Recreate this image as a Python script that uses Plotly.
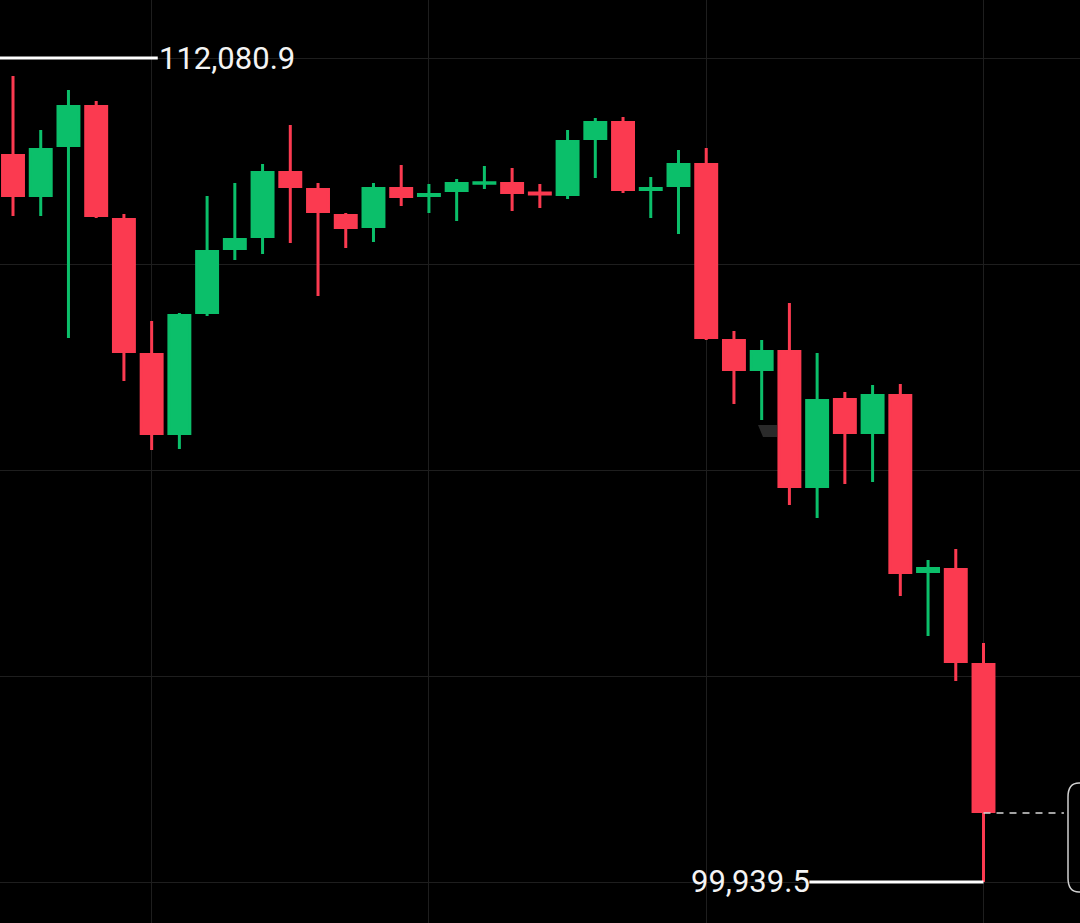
import plotly.graph_objects as go

# candle index, values
candle_idx = list(range(36))
open_px = [110644.4, 110054.8, 110791.5, 111366.4, 109701.3, 107712.2, 106547.9, 108330.8, 109273.8, 109450.6,
           110393.9, 110143.4, 109760.3, 109598.0, 110158.1, 110054.8, 110128.4, 110234.0, 110231.8, 110090.0,
           110069.5, 110894.6, 111130.6, 110143.2, 110202.1, 110511.7, 107918.4, 107490.9, 107756.4, 105767.0,
           107049.1, 106562.6, 107108.0, 104514.5, 104544.2, 103144.4]
high_px = [111815.7, 111020.0, 111609.4, 111447.3, 109782.3, 108205.7, 108323.6, 110047.5, 110239.0, 110519.0,
           111093.7, 110239.0, 109797.0, 110239.0, 110504.3, 110224.3, 110298.0, 110489.5, 110460.1, 110224.3,
           111020.0, 111196.8, 111211.5, 110327.5, 110725.3, 110754.8, 108058.3, 107925.7, 108470.9, 107734.2,
           107159.5, 107262.6, 107277.4, 104684.1, 104846.1, 103461.1]
low_px = [109752.8, 109752.8, 107955.2, 109723.3, 107321.6, 106304.9, 106319.6, 108279.3, 109104.5, 109192.9,
          109355.0, 108574.0, 109281.3, 109369.7, 109900.2, 109797.0, 109679.1, 110150.6, 109826.5, 109870.7,
          110003.3, 110312.7, 110091.7, 109723.3, 109487.6, 107925.7, 106982.7, 106746.9, 105494.5, 105302.9,
          105803.9, 105833.4, 104153.6, 103564.2, 102901.2, 99939.5]
close_px = [110054.8, 110732.8, 111366.4, 109760.1, 107756.2, 106547.9, 108286.8, 109229.8, 109406.6, 110393.9,
            110187.4, 109819.0, 109583.3, 110158.1, 110040.0, 110069.7, 110231.8, 110244.0, 110099.0, 110078.0,
            110850.6, 111130.6, 110143.2, 110158.1, 110511.7, 107962.4, 107490.9, 107756.4, 105767.0, 107034.4,
            106562.6, 107108.0, 104499.8, 104558.9, 103188.4, 100978.2]

price_ticks = [112080.9, 109036.0, 106002.0, 102966.0, 99931.0]
time_ticks = [5, 15, 25, 35]

high_price = 112080.9
low_price = 99939.5
high_label = '112,080.9'
low_label = '99,939.5'
high_line_x = [-0.47, 5.22]
low_line_x = [28.72, 35]
last_line_x = [35, 37.9]
last_close = 100956.2

RED = '#fb3a50'
GREEN = '#0bbf6a'
GRID = '#1e1e1e'
W, H = 1080, 923
X_RANGE = [-0.469, 38.48]
Y_RANGE = [99335, 112935.5]


def to_paper(x_pix, y_pix):
    return f'{x_pix / W:.5f} {1 - y_pix / H:.5f}'


def cover_rect(x0, y0, x1, y1):
    return {'type': 'rect', 'xref': 'paper', 'yref': 'paper', 'x0': x0 / W, 'x1': x1 / W,
            'y0': 1 - y1 / H, 'y1': 1 - y0 / H, 'fillcolor': 'black', 'line': {'width': 0}, 'layer': 'between'}


fig = go.Figure()
fig.add_trace(
    go.Candlestick(
        x=candle_idx,
        open=open_px,
        high=high_px,
        low=low_px,
        close=close_px,
        increasing={'line': {'color': GREEN, 'width': 3}, 'fillcolor': GREEN},
        decreasing={'line': {'color': RED, 'width': 3}, 'fillcolor': RED},
        whiskerwidth=0,
        showlegend=False,
    )
)
fig.add_trace(
    go.Scatter(x=high_line_x, y=[high_price] * 2, mode='lines',
               line={'color': 'white', 'width': 3}, showlegend=False, hoverinfo='skip')
)
fig.add_trace(
    go.Scatter(x=low_line_x, y=[low_price] * 2, mode='lines',
               line={'color': 'white', 'width': 3}, showlegend=False, hoverinfo='skip')
)
fig.add_trace(
    go.Scatter(x=last_line_x, y=[last_close] * 2, mode='lines',
               line={'color': '#d8d8d8', 'width': 1.5, 'dash': '7px,6px'}, showlegend=False, hoverinfo='skip')
)

# rounded price tag cut off by the right edge
tag_path = (
    f"M {to_paper(1080, 783)} L {to_paper(1079, 783)} "
    f"Q {to_paper(1068, 783)} {to_paper(1068, 797)} "
    f"L {to_paper(1068, 878)} Q {to_paper(1068, 892)} {to_paper(1079, 892)} L {to_paper(1080, 892)}"
)
fig.add_shape(type='path', path=tag_path, xref='paper', yref='paper', line={'color': '#d0d0d0', 'width': 1.5})

# gaps in the grid and the smudge left in the screenshot
fig.add_shape(**cover_rect(547, 466, 704, 474))
fig.add_shape(**cover_rect(710, 466, 720, 474))
fig.add_shape(**cover_rect(0, 916, 1080, 923))
smudge = f"M {to_paper(758, 425)} L {to_paper(777, 425)} L {to_paper(777, 437)} L {to_paper(763, 437)} Z"
fig.add_shape(type='path', path=smudge, xref='paper', yref='paper', fillcolor='#2a2a2a',
              line={'width': 0}, layer='between')

fig.add_annotation(x=5.2, y=high_price, text=high_label, showarrow=False, xanchor='left', yanchor='middle',
                   font={'family': 'Roboto', 'size': 31, 'color': '#f4f4f4'})
fig.add_annotation(x=28.81, y=low_price, text=low_label, showarrow=False, xanchor='right', yanchor='middle',
                   font={'family': 'Roboto', 'size': 31, 'color': '#f4f4f4'})

fig.update_layout(
    width=W,
    height=H,
    margin={'l': 0, 'r': 0, 't': 0, 'b': 0},
    paper_bgcolor='black',
    plot_bgcolor='black',
    boxgap=0.245,
    boxgroupgap=0,
    xaxis={'range': X_RANGE, 'tickvals': time_ticks, 'showticklabels': False, 'ticks': '',
           'gridcolor': GRID, 'gridwidth': 1, 'zeroline': False, 'rangeslider': {'visible': False}},
    yaxis={'range': Y_RANGE, 'tickvals': price_ticks, 'showticklabels': False, 'ticks': '',
           'gridcolor': GRID, 'gridwidth': 1, 'zeroline': False},
)
fig.write_html("out.html", config={'displayModeBar': False},
               post_script="document.body.style.margin='0';document.body.style.background='black';")
